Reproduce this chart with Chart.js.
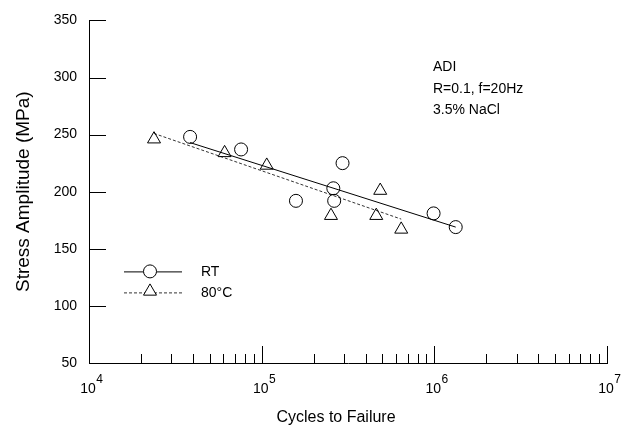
<!DOCTYPE html>
<html>
<head>
<meta charset="utf-8">
<script src="https://cdn.jsdelivr.net/npm/chart.js@4"></script>
<style>
  html, body { margin: 0; padding: 0; background: #fff; }
  #wrap { width: 627px; height: 427px; }
</style>
</head>
<body>
<div id="wrap"><canvas id="grafico"></canvas></div>
<script>
// datos
const rtCycles = [38500, 76000, 158000, 260000, 263000, 294000, 990000, 1330000];
const rtStress = [248, 237, 192, 203, 192, 225, 181, 169];
const htCycles = [23800, 61000, 107000, 252000, 461000, 486000, 643000];
const htStress = [246, 234, 223, 179, 179, 201, 167];
const rtFitCycles = [38500, 1330000];
const rtFitStress = [243, 169];
const htFitCycles = [23800, 643000];
const htFitStress = [251, 176];
const yTicks = [50, 100, 150, 200, 250, 300, 350];
const decades = [1e4, 1e5, 1e6, 1e7];
const notas = ['ADI', 'R=0.1, f=20Hz', '3.5% NaCl'];
const tituloX = 'Cycles to Failure';

const fuente = 'Liberation Sans, Arial, sans-serif';

function puntos(xs, ys) {
    return xs.map((x, i) => ({ x: x, y: ys[i] }));
}

// ticks menores del eje x (1..9 por decada)
const xTickValues = [];
for (let k = 4; k < 7; k++) {
    for (let m = 1; m < 10; m++) xTickValues.push(m * Math.pow(10, k));
}
xTickValues.push(1e7);

// marcas hacia adentro, etiquetas 10^n, leyenda y anotacion
const extras = {
    id: 'extras',
    afterDraw(chart) {
        const ctx = chart.ctx;
        const area = chart.chartArea;
        const xs = chart.scales.x, ys = chart.scales.y;
        ctx.save();
        ctx.strokeStyle = '#000';
        ctx.lineWidth = 1;
        ctx.beginPath();
        xTickValues.forEach(v => {
            if (v === 1e4) return;
            const px = Math.round(xs.getPixelForValue(v)) + 0.5;
            const len = decades.includes(v) ? 17 : 9;
            ctx.moveTo(px, area.bottom);
            ctx.lineTo(px, area.bottom - len);
        });
        yTicks.forEach(v => {
            const py = Math.round(ys.getPixelForValue(v)) + 0.5;
            ctx.moveTo(area.left, py);
            ctx.lineTo(area.left + 17, py);
        });
        ctx.stroke();

        // etiquetas del eje x con exponente
        ctx.fillStyle = '#000';
        ctx.textBaseline = 'alphabetic';
        decades.forEach(v => {
            const px = xs.getPixelForValue(v);
            const e = String(Math.round(Math.log10(v)));
            ctx.font = '14px ' + fuente;
            ctx.textAlign = 'center';
            ctx.fillText('10', px - 1, area.bottom + 30);
            const w = ctx.measureText('10').width;
            ctx.font = '12px ' + fuente;
            ctx.textAlign = 'left';
            ctx.fillText(e, px - 1 + w / 2 + 0.5, area.bottom + 20);
        });

        // titulo del eje x
        ctx.font = '16px ' + fuente;
        ctx.textAlign = 'center';
        ctx.textBaseline = 'middle';
        ctx.fillText(tituloX, (area.left + area.right) / 2 - 12, area.bottom + 55);

        // leyenda
        const items = [chart.data.datasets[0], chart.data.datasets[1]];
        const lineas = [chart.data.datasets[2], chart.data.datasets[3]];
        ctx.font = '14px ' + fuente;
        ctx.textAlign = 'left';
        items.forEach((ds, i) => {
            const y = area.top + 251 + i * 21;
            const x0 = area.left + 35;
            ctx.save();
            ctx.strokeStyle = lineas[i].borderColor;
            ctx.setLineDash(lineas[i].borderDash || []);
            ctx.beginPath();
            ctx.moveTo(x0, y + 0.5);
            ctx.lineTo(x0 + 58, y + 0.5);
            ctx.stroke();
            ctx.restore();
            ctx.save();
            ctx.fillStyle = '#fff';
            ctx.strokeStyle = '#000';
            Chart.helpers.drawPoint(ctx, {
                pointStyle: ds.pointStyle,
                radius: ds.pointRadius,
                rotation: 0,
                borderWidth: 1
            }, x0 + 26, i === 1 ? y - 1 : y);
            ctx.restore();
            ctx.fillText(ds.label, x0 + 77, y + 1);
        });

        // anotacion
        notas.forEach((t, i) => {
            ctx.fillText(t, area.left + 344, area.top + 47 + i * 21.5);
        });
        ctx.restore();
    }
};

const ctx = document.getElementById('grafico').getContext('2d');
new Chart(ctx, {
    type: 'scatter',
    data: {
        datasets: [{
            label: 'RT',
            data: puntos(rtCycles, rtStress),
            pointStyle: 'circle',
            pointRadius: 6.5,
            borderColor: '#000',
            backgroundColor: 'rgba(0,0,0,0)',
            borderWidth: 1
        }, {
            label: '80°C',
            data: puntos(htCycles, htStress),
            pointStyle: 'triangle',
            pointRadius: 7.5,
            borderColor: '#000',
            backgroundColor: 'rgba(0,0,0,0)',
            borderWidth: 1
        }, {
            label: 'RT ajuste',
            data: puntos(rtFitCycles, rtFitStress),
            showLine: true,
            pointRadius: 0,
            borderColor: '#000',
            borderWidth: 1
        }, {
            label: '80°C ajuste',
            data: puntos(htFitCycles, htFitStress),
            showLine: true,
            pointRadius: 0,
            borderColor: '#333',
            borderDash: [3, 2],
            borderWidth: 1
        }]
    },
    options: {
        responsive: true,
        maintainAspectRatio: false,
        animation: false,
        layout: { padding: { top: 18, right: 20, left: 0, bottom: 0 } },
        plugins: { legend: { display: false }, tooltip: { enabled: false } },
        scales: {
            x: {
                type: 'logarithmic',
                min: 1e4,
                max: 1e7,
                afterBuildTicks(scale) {
                    scale.ticks = xTickValues.map(v => ({ value: v, major: decades.includes(v) }));
                },
                afterFit(scale) { scale.height = 64; },
                grid: { display: false, drawTicks: false },
                border: { display: true, color: '#000', width: 1 },
                ticks: { display: false },
                title: { display: false }
            },
            y: {
                min: 50,
                max: 350,
                afterBuildTicks(scale) {
                    scale.ticks = yTicks.map(v => ({ value: v }));
                },
                afterFit(scale) { scale.width = 89; },
                grid: { display: false, drawTicks: false },
                border: { display: true, color: '#000', width: 1 },
                ticks: {
                    padding: 12,
                    color: '#000',
                    font: { family: fuente, size: 14 }
                },
                title: {
                    display: true,
                    text: 'Stress Amplitude (MPa)',
                    color: '#000',
                    font: { family: fuente, size: 19 },
                    padding: { top: 12, bottom: 0 }
                }
            }
        }
    },
    plugins: [extras]
});
</script>
</body>
</html>
